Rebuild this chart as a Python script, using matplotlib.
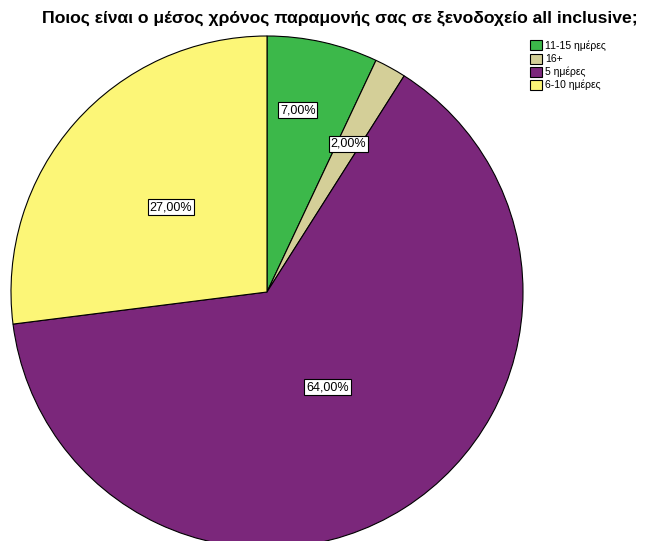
import numpy as np
import matplotlib.pyplot as plt

# Average length of stay in an all-inclusive hotel
labels = ['11-15 ημέρες', '16+', '5 ημέρες', '6-10 ημέρες']
values = [7.0, 2.0, 64.0, 27.0]
colors = ['#3cb84a', '#d4cf98', '#7b277b', '#fcf677']
label_dist = [0.72, 0.66, 0.44, 0.5]

plt.rcParams['font.family'] = ['Liberation Sans', 'DejaVu Sans']

fig = plt.figure(figsize=(6.54, 5.41), dpi=100)
ax = fig.add_axes([0, 0, 1, 1])

cx, cy, r = 267, 541 - 292, 256
wedges, _ = ax.pie(values, colors=colors, startangle=90, counterclock=False,
                   center=(cx, cy), radius=r, frame=True,
                   wedgeprops=dict(edgecolor='black', linewidth=0.8))
ax.set_xlim(0, 654)
ax.set_ylim(0, 541)
ax.axis('off')

# percentage boxes inside each slice
start = 0.0
for v, d in zip(values, label_dist):
    mid = np.deg2rad(90 - (start + v / 2) * 3.6 + (3 if v == 7.0 else 0))
    start += v
    ax.text(cx + d * r * np.cos(mid), cy + d * r * np.sin(mid),
            f'{v:.2f}%'.replace('.', ','), ha='center', va='center', fontsize=9,
            bbox=dict(boxstyle='square,pad=0.15', fc='white', ec='black', lw=0.8))

fig.text(0.52, 0.966, 'Ποιος είναι ο μέσος χρόνος παραμονής σας σε ξενοδοχείο all inclusive;',
         ha='center', va='center', fontsize=12.6, fontweight='bold')

ax.legend(wedges, labels, loc='upper left', bbox_to_anchor=(0.803, 0.935),
          frameon=False, fontsize=7.5, handlelength=1.1, handleheight=1.1,
          handletextpad=0.3, labelspacing=0.25, borderpad=0)

fig.savefig('out.png', dpi=100)
